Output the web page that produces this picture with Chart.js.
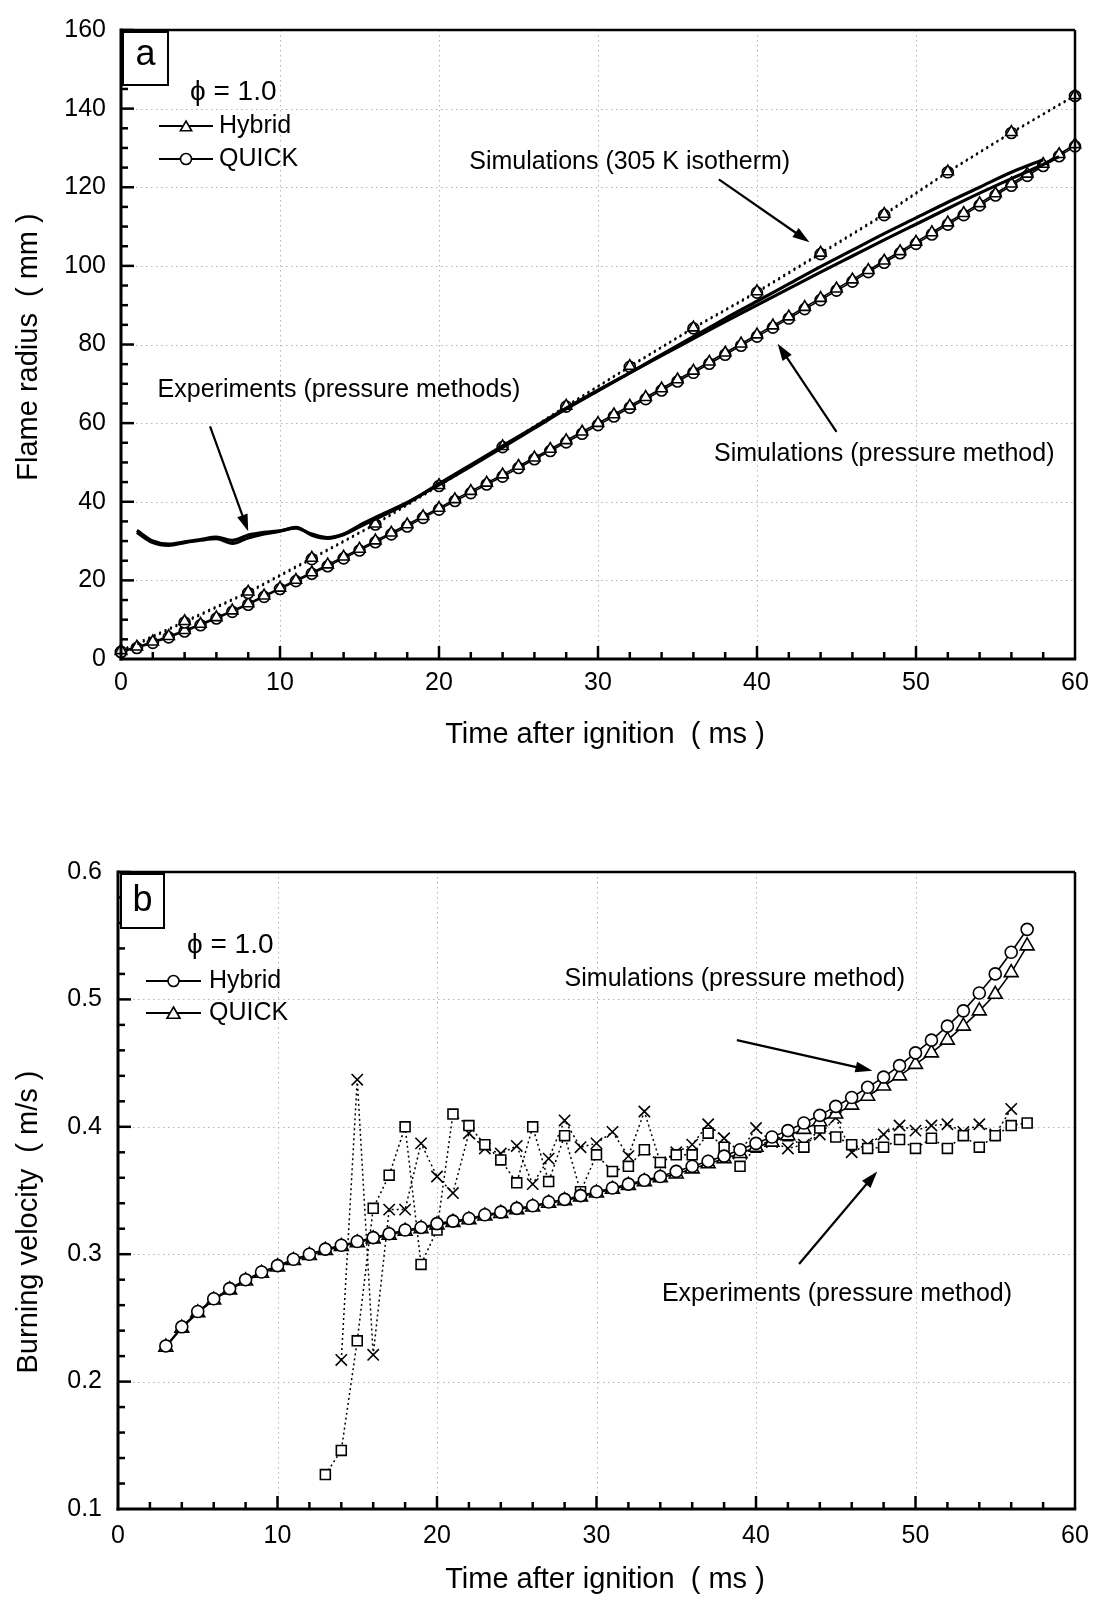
<!DOCTYPE html>
<html>
<head>
<meta charset="utf-8">
<script src="https://cdn.jsdelivr.net/npm/chart.js@4.4.1/dist/chart.umd.min.js"></script>
<style>
html,body{margin:0;padding:0;background:#fff;}
#wrap{position:relative;width:1102px;height:1600px;background:#fff;}
canvas{position:absolute;left:0;}
#c1{top:0;}
#c2{top:800px;}
</style>
</head>
<body>
<div id="wrap">
<canvas id="c1" width="1102" height="800"></canvas>
<canvas id="c2" width="1102" height="800"></canvas>
</div>
<script>
// ================= DATA : panel (a) Flame radius (mm) =================
const timeSimA = [0,1,2,3,4,5,6,7,8,9,10,11,12,13,14,15,16,17,18,19,20,21,22,23,24,25,26,27,28,29,30,31,32,33,34,35,36,37,38,39,40,41,42,43,44,45,46,47,48,49,50,51,52,53,54,55,56,57,58,59,60];
const radiusPressHybrid = [
  2.0, 3.1, 4.4, 5.8, 7.3, 8.9, 10.6, 12.3, 14.1, 16.1,
  18.1, 20.1, 22.0, 24.0, 26.0, 28.0, 30.1, 32.1, 34.2, 36.3,
  38.4, 40.6, 42.7, 44.8, 46.9, 49.1, 51.2, 53.4, 55.6, 57.8,
  60.0, 62.2, 64.4, 66.6, 68.8, 71.1, 73.3, 75.6, 77.9, 80.2,
  82.5, 84.8, 87.1, 89.5, 91.8, 94.2, 96.5, 98.9, 101.3, 103.7,
  106.1, 108.5, 111.0, 113.4, 115.9, 118.4, 120.9, 123.4, 125.9, 128.4,
  130.9];
const radiusPressQuick = [
  1.8, 2.8, 4.1, 5.5, 7.0, 8.6, 10.3, 12.0, 13.8, 15.8,
  17.8, 19.8, 21.7, 23.6, 25.6, 27.6, 29.7, 31.7, 33.7, 35.9,
  38.0, 40.2, 42.2, 44.4, 46.4, 48.6, 50.8, 52.9, 55.1, 57.3,
  59.5, 61.7, 63.9, 66.1, 68.3, 70.6, 72.8, 75.1, 77.4, 79.7,
  82.0, 84.3, 86.6, 89.0, 91.3, 93.7, 96.0, 98.4, 100.8, 103.2,
  105.6, 108.0, 110.5, 112.9, 115.4, 117.9, 120.4, 122.9, 125.4, 127.9,
  130.4];
const timeIso = [0,4,8,12,16,20,24,28,32,36,40,44,48,52,56,60];
const radiusIsoHybrid = [2.2, 9.6, 17.1, 25.7, 34.4, 44.2, 54.1, 64.4, 74.5, 84.3, 93.5, 103.3, 113.2, 124.0, 134.0, 143.4];
const radiusIsoQuick  = [1.8, 9.3, 16.8, 25.4, 34.2, 44.0, 53.9, 64.2, 74.3, 84.1, 93.2, 103.0, 112.9, 123.8, 133.8, 143.2];
const timeExpA1 = [1,2,3,4,5,6,7,8,9,10,11,12,13,14,15,16,18,20,22,24,26,28,30,32,34,36,38,40,42,44,46,48,50,52,54,56,58];
const radiusExpA1 = [32.7,30.0,29.2,29.8,30.4,31.0,30.2,31.5,32.2,32.6,33.3,31.8,30.9,31.8,34.0,36.0,39.8,44.3,49.0,53.8,58.7,63.6,68.2,72.8,77.4,82.0,86.6,91.0,95.4,99.8,104.0,108.2,112.2,116.2,120.0,123.8,127.0];
const timeExpA2 = [1,2,3,4,5,6,7,8,9,10,11,12,13,14,15,16,18,20,22,24,26,28,30,32,34,36,38,40,42,44,46,48,50,52,54,56,58,59];
const radiusExpA2 = [32.2,29.6,28.9,29.6,30.2,30.6,29.4,30.8,31.8,32.5,33.5,31.5,30.7,31.6,33.6,35.6,39.6,44.6,49.4,54.2,59.0,63.8,68.4,72.8,77.2,81.5,85.8,90.0,94.2,98.4,102.5,106.6,110.6,114.6,118.5,122.2,125.8,127.8];
const ticksXA = [0,10,20,30,40,50,60];
const ticksYA = [0,20,40,60,80,100,120,140,160];

// ================= DATA : panel (b) Burning velocity (m/s) =================
const timeSimB = [3,4,5,6,7,8,9,10,11,12,13,14,15,16,17,18,19,20,21,22,23,24,25,26,27,28,29,30,31,32,33,34,35,36,37,38,39,40,41,42,43,44,45,46,47,48,49,50,51,52,53,54,55,56,57];
const velSimHybrid = [
  0.228, 0.243, 0.255, 0.265, 0.273, 0.280, 0.286,
  0.291, 0.296, 0.300, 0.304, 0.307, 0.310, 0.313, 0.316, 0.319, 0.321,
  0.324, 0.326, 0.328, 0.331, 0.333, 0.336, 0.338, 0.341, 0.343, 0.346,
  0.349, 0.352, 0.355, 0.358, 0.361, 0.365, 0.369, 0.373, 0.377, 0.382,
  0.387, 0.392, 0.397, 0.403, 0.409, 0.416, 0.423, 0.431, 0.439, 0.448,
  0.458, 0.468, 0.479, 0.491, 0.505, 0.520, 0.537, 0.555];
const velSimQuick = [
  0.227, 0.242, 0.254, 0.264, 0.272, 0.279, 0.285,
  0.290, 0.295, 0.299, 0.303, 0.306, 0.309, 0.312, 0.315, 0.318, 0.320,
  0.323, 0.325, 0.327, 0.330, 0.332, 0.335, 0.337, 0.340, 0.342, 0.345,
  0.348, 0.351, 0.354, 0.357, 0.360, 0.363, 0.367, 0.371, 0.375, 0.379,
  0.384, 0.388, 0.393, 0.398, 0.404, 0.410, 0.417, 0.424, 0.432, 0.440,
  0.449, 0.458, 0.468, 0.479, 0.491, 0.504, 0.521, 0.542];
const timeExpSq = [13,14,15,16,17,18,19,20,21,22,23,24,25,26,27,28,29,30,31,32,33,34,35,36,37,38,39,40,41,42,43,44,45,46,47,48,49,50,51,52,53,54,55,56,57];
const velExpSq = [
  0.127, 0.146, 0.232, 0.336, 0.362, 0.400, 0.292,
  0.319, 0.410, 0.401, 0.386, 0.374, 0.356, 0.400, 0.357, 0.393, 0.349,
  0.378, 0.365, 0.369, 0.382, 0.372, 0.378, 0.378, 0.395, 0.384, 0.369,
  0.384, 0.390, 0.393, 0.384, 0.399, 0.392, 0.386, 0.383, 0.384, 0.390,
  0.383, 0.391, 0.383, 0.393, 0.384, 0.393, 0.401, 0.403];
const timeExpX = [14,15,16,17,18,19,20,21,22,23,24,25,26,27,28,29,30,31,32,33,34,35,36,37,38,39,40,41,42,43,44,45,46,47,48,49,50,51,52,53,54,55,56];
const velExpX = [
  0.217, 0.437, 0.221, 0.335, 0.335, 0.387,
  0.361, 0.348, 0.395, 0.383, 0.379, 0.385, 0.355, 0.375, 0.405, 0.384,
  0.387, 0.396, 0.377, 0.412, 0.372, 0.380, 0.386, 0.402, 0.391, 0.380,
  0.399, 0.388, 0.383, 0.386, 0.394, 0.407, 0.380, 0.386, 0.394, 0.401,
  0.397, 0.401, 0.402, 0.396, 0.402, 0.394, 0.414];
const ticksXB = [0,10,20,30,40,50,60];
const ticksYB = [0.1,0.2,0.3,0.4,0.5,0.6];

// ================= helpers =================
const FONT = '"Liberation Sans", Arial, Helvetica, sans-serif';
Chart.defaults.font.family = FONT;
Chart.defaults.color = '#000';
const pts = (xs, ys) => xs.map((x, i) => ({x: x, y: ys[i]}));

function seg(ctx, x1, y1, x2, y2) { ctx.beginPath(); ctx.moveTo(x1, y1); ctx.lineTo(x2, y2); ctx.stroke(); }

function arrow(ctx, x1, y1, x2, y2) {
  const ang = Math.atan2(y2 - y1, x2 - x1), L = 17, W = 5.5;
  const c = Math.cos(ang), s = Math.sin(ang);
  ctx.lineWidth = 2.2; ctx.setLineDash([]);
  seg(ctx, x1, y1, x2 - c * L * 0.7, y2 - s * L * 0.7);
  ctx.beginPath();
  ctx.moveTo(x2, y2);
  ctx.lineTo(x2 - c * L - s * W, y2 - s * L + c * W);
  ctx.lineTo(x2 - c * L + s * W, y2 - s * L - c * W);
  ctx.closePath(); ctx.fill();
}

function marker(ctx, style, x, y, r) {
  ctx.fillStyle = '#fff'; ctx.strokeStyle = '#000'; ctx.lineWidth = 1.6; ctx.setLineDash([]);
  ctx.beginPath();
  if (style === 'circle') {
    ctx.arc(x, y, r, 0, Math.PI * 2);
  } else {
    for (let k = 0; k < 3; k++) {
      const a = k * 2 * Math.PI / 3;
      const px = x + Math.sin(a) * r, py = y - Math.cos(a) * r;
      if (k === 0) ctx.moveTo(px, py); else ctx.lineTo(px, py);
    }
    ctx.closePath();
  }
  ctx.fill(); ctx.stroke();
}

function panelPlugin(spec) {
  return {
    id: 'panel_' + spec.letter,
    beforeDatasetsDraw(chart) {
      const {ctx, chartArea: a, scales: {x, y}} = chart;
      ctx.save();
      ctx.strokeStyle = '#b4b4b4'; ctx.lineWidth = 1; ctx.setLineDash([1.5, 3.5]);
      spec.xTicks.forEach(v => {
        if (v <= spec.xMin || v >= spec.xMax) return;
        const px = Math.round(x.getPixelForValue(v)) + 0.5;
        seg(ctx, px, a.top, px, a.bottom);
      });
      spec.yTicks.forEach(v => {
        if (v <= spec.yMin + 1e-9 || v >= spec.yMax - 1e-9) return;
        const py = Math.round(y.getPixelForValue(v)) + 0.5;
        seg(ctx, a.left, py, a.right, py);
      });
      ctx.restore();
    },
    afterDatasetsDraw(chart) {
      const {ctx, chartArea: a, scales: {x, y}} = chart;
      ctx.save();
      ctx.setLineDash([]);
      ctx.strokeStyle = '#000'; ctx.fillStyle = '#000';
      // frame
      ctx.lineWidth = 2.5;
      seg(ctx, a.left, a.top, a.right, a.top);
      seg(ctx, a.right, a.top, a.right, a.bottom);
      ctx.lineWidth = 3;
      seg(ctx, a.left, a.top - 1.5, a.left, a.bottom + 1.5);
      seg(ctx, a.left - 1.5, a.bottom, a.right + 1.2, a.bottom);
      // inward ticks
      ctx.lineWidth = 2.5;
      const nx = Math.round((spec.xMax - spec.xMin) / spec.xMinor);
      for (let i = 0; i <= nx; i++) {
        const v = spec.xMin + i * spec.xMinor;
        const major = Math.abs(v / spec.xMajor - Math.round(v / spec.xMajor)) < 1e-6;
        if (i === 0 || i === nx) continue;
        const px = x.getPixelForValue(v);
        seg(ctx, px, a.bottom, px, a.bottom - (major ? 13 : 7));
      }
      const ny = Math.round((spec.yMax - spec.yMin) / spec.yMinor);
      for (let i = 0; i <= ny; i++) {
        const v = spec.yMin + i * spec.yMinor;
        const major = Math.abs((v - spec.yMin) / spec.yMajor - Math.round((v - spec.yMin) / spec.yMajor)) < 1e-6;
        if (i === 0) continue;
        const py = y.getPixelForValue(v);
        seg(ctx, a.left, py, a.left + (major ? 13 : 7), py);
      }
      // panel letter box
      const bx = a.left + spec.box.dx, by = a.top + spec.box.dy;
      ctx.lineWidth = 2;
      ctx.fillStyle = '#fff';
      ctx.fillRect(bx, by, spec.box.w, spec.box.h);
      ctx.strokeRect(bx, by, spec.box.w, spec.box.h);
      ctx.fillStyle = '#000';
      ctx.font = spec.box.font + 'px ' + FONT;
      ctx.textAlign = 'center'; ctx.textBaseline = 'middle';
      ctx.fillText(spec.letter, bx + spec.box.w / 2, by + spec.box.h / 2 + spec.box.ty);
      // legend
      const L = spec.legend;
      ctx.textAlign = 'left'; ctx.textBaseline = 'middle';
      ctx.font = L.phiFont + 'px ' + FONT;
      ctx.fillText('\u03D5 = 1.0', L.phiX, L.phiY);
      L.items.forEach(it => {
        ctx.strokeStyle = '#000'; ctx.lineWidth = 1.8; ctx.setLineDash([]);
        seg(ctx, L.lineX1, it.y, L.lineX2, it.y);
        marker(ctx, it.style, (L.lineX1 + L.lineX2) / 2, it.y + (it.style === 'triangle' ? 1.5 : 0), it.r);
        ctx.fillStyle = '#000';
        ctx.font = L.font + 'px ' + FONT;
        ctx.fillText(it.label, L.textX, it.y);
      });
      // annotations with arrows
      ctx.font = spec.annFont + 'px ' + FONT;
      ctx.fillStyle = '#000'; ctx.strokeStyle = '#000';
      spec.annotations.forEach(an => {
        ctx.textAlign = 'left'; ctx.textBaseline = 'middle';
        ctx.fillText(an.text, x.getPixelForValue(an.x), y.getPixelForValue(an.y));
        const [t1, v1, t2, v2] = an.arrow;
        arrow(ctx, x.getPixelForValue(t1), y.getPixelForValue(v1), x.getPixelForValue(t2), y.getPixelForValue(v2));
      });
      // axis titles
      ctx.font = spec.titleFont + 'px ' + FONT;
      ctx.textAlign = 'center'; ctx.textBaseline = 'middle';
      ctx.fillText(spec.xTitle, spec.xTitlePos[0], spec.xTitlePos[1]);
      ctx.save();
      ctx.translate(spec.yTitlePos[0], spec.yTitlePos[1]);
      ctx.rotate(-Math.PI / 2);
      ctx.fillText(spec.yTitle, 0, 0);
      ctx.restore();
      ctx.restore();
    }
  };
}

function lineDs(label, data, o) {
  return Object.assign({
    label: label, data: data, borderColor: '#000', backgroundColor: '#fff',
    borderWidth: 1.6, pointRadius: 5.5, pointStyle: 'circle',
    pointBackgroundColor: '#fff', pointBorderColor: '#000', pointBorderWidth: 1.6,
    fill: false, tension: 0, clip: false, showLine: true
  }, o);
}

function baseOptions(o) {
  return {
    responsive: false, animation: false, devicePixelRatio: 1,
    events: [],
    layout: {padding: o.padding},
    plugins: {legend: {display: false}, tooltip: {enabled: false}, title: {display: false}},
    scales: {
      x: {
        type: 'linear', min: o.xMin, max: o.xMax,
        afterFit: s => { s.height = o.xAxisH; },
        afterBuildTicks: s => { s.ticks = o.xTicks.map(v => ({value: v})); },
        ticks: {font: {size: 25, family: FONT}, color: '#000', padding: o.xPad, autoSkip: false, maxRotation: 0,
                callback: v => String(v)},
        grid: {display: false, drawTicks: false}, border: {display: false}
      },
      y: {
        type: 'linear', min: o.yMin, max: o.yMax,
        afterFit: s => { s.width = o.yAxisW; },
        afterBuildTicks: s => { s.ticks = o.yTicks.map(v => ({value: v})); },
        ticks: {font: {size: 25, family: FONT}, color: '#000', padding: o.yPad, autoSkip: false,
                callback: v => o.yFmt(v)},
        grid: {display: false, drawTicks: false}, border: {display: false}
      }
    }
  };
}

// ================= chart (a) =================
new Chart(document.getElementById('c1'), {
  type: 'line',
  data: {
    datasets: [
      lineDs('Experiment 1', pts(timeExpA1, radiusExpA1), {borderWidth: 3.2, pointRadius: 0, cubicInterpolationMode: 'monotone'}),
      lineDs('Experiment 2', pts(timeExpA2, radiusExpA2), {borderWidth: 3.2, pointRadius: 0, cubicInterpolationMode: 'monotone'}),
      lineDs('Hybrid 305 K', pts(timeIso, radiusIsoHybrid), {borderWidth: 2, borderDash: [2, 4], pointStyle: 'triangle', pointRadius: 6.5}),
      lineDs('QUICK 305 K', pts(timeIso, radiusIsoQuick), {borderWidth: 2, borderDash: [2, 4], pointStyle: 'circle', pointRadius: 5.5}),
      lineDs('Hybrid pressure', pts(timeSimA, radiusPressHybrid), {pointStyle: 'triangle', pointRadius: 6.5}),
      lineDs('QUICK pressure', pts(timeSimA, radiusPressQuick), {pointStyle: 'circle', pointRadius: 5.5})
    ]
  },
  options: baseOptions({
    padding: {top: 27, right: 27, bottom: 41, left: 0}, xAxisH: 100, yAxisW: 121,
    xMin: 0, xMax: 60, yMin: 0, yMax: 160, xTicks: ticksXA, yTicks: ticksYA,
    xPad: 9, yPad: 15, yFmt: v => String(v)
  }),
  plugins: [panelPlugin({
    letter: 'a', xMin: 0, xMax: 60, yMin: 0, yMax: 160,
    xTicks: ticksXA, yTicks: ticksYA, xMajor: 10, xMinor: 2, yMajor: 20, yMinor: 5,
    box: {dx: 2, dy: 2, w: 45, h: 53, font: 36, ty: -3},
    legend: {phiX: 190, phiY: 92, phiFont: 28, font: 25, lineX1: 159, lineX2: 213, textX: 219,
             items: [{label: 'Hybrid', y: 126, style: 'triangle', r: 6.5},
                     {label: 'QUICK', y: 159, style: 'circle', r: 5.5}]},
    annFont: 25,
    annotations: [
      {text: 'Simulations (305 K isotherm)', x: 21.9, y: 126.4, arrow: [37.6, 122, 43.3, 106]},
      {text: 'Experiments (pressure methods)', x: 2.3, y: 68.3, arrow: [5.6, 59.2, 8.0, 32.5]},
      {text: 'Simulations (pressure method)', x: 37.3, y: 52.1, arrow: [45.0, 57.8, 41.3, 80.2]}
    ],
    titleFont: 29, xTitle: 'Time after ignition  ( ms )', xTitlePos: [605, 735],
    yTitle: 'Flame radius  ( mm )', yTitlePos: [29, 347]
  })]
});

// ================= chart (b) =================
new Chart(document.getElementById('c2'), {
  type: 'line',
  data: {
    datasets: [
      lineDs('Hybrid', pts(timeSimB, velSimHybrid), {pointStyle: 'circle', pointRadius: 6}),
      lineDs('QUICK', pts(timeSimB, velSimQuick), {pointStyle: 'triangle', pointRadius: 8}),
      lineDs('Experiment squares', pts(timeExpSq, velExpSq), {borderWidth: 1.5, borderDash: [2, 3], pointStyle: 'rect', pointRadius: 7}),
      lineDs('Experiment crosses', pts(timeExpX, velExpX), {borderWidth: 1.5, borderDash: [2, 3], pointStyle: 'crossRot', pointRadius: 8, pointBorderWidth: 1.6})
    ]
  },
  options: baseOptions({
    padding: {top: 72, right: 27, bottom: 0, left: 0}, xAxisH: 91, yAxisW: 118,
    xMin: 0, xMax: 60, yMin: 0.1, yMax: 0.6, xTicks: ticksXB, yTicks: ticksYB,
    xPad: 12, yPad: 16, yFmt: v => (Math.round(v * 10) / 10).toString()
  }),
  plugins: [panelPlugin({
    letter: 'b', xMin: 0, xMax: 60, yMin: 0.1, yMax: 0.6,
    xTicks: ticksXB, yTicks: ticksYB, xMajor: 10, xMinor: 2, yMajor: 0.1, yMinor: 0.02,
    box: {dx: 3, dy: 2, w: 43, h: 54, font: 36, ty: 0},
    legend: {phiX: 187, phiY: 145, phiFont: 28, font: 25, lineX1: 146, lineX2: 201, textX: 209,
             items: [{label: 'Hybrid', y: 181, style: 'circle', r: 5.5},
                     {label: 'QUICK', y: 213, style: 'triangle', r: 7.5}]},
    annFont: 25,
    annotations: [
      {text: 'Simulations (pressure method)', x: 28.0, y: 0.516, arrow: [38.8, 0.468, 47.3, 0.444]},
      {text: 'Experiments (pressure method)', x: 34.1, y: 0.269, arrow: [42.7, 0.2923, 47.6, 0.365]}
    ],
    titleFont: 29, xTitle: 'Time after ignition  ( ms )', xTitlePos: [605, 780],
    yTitle: 'Burning velocity  ( m/s )', yTitlePos: [29, 422]
  })]
});
</script>
</body>
</html>
